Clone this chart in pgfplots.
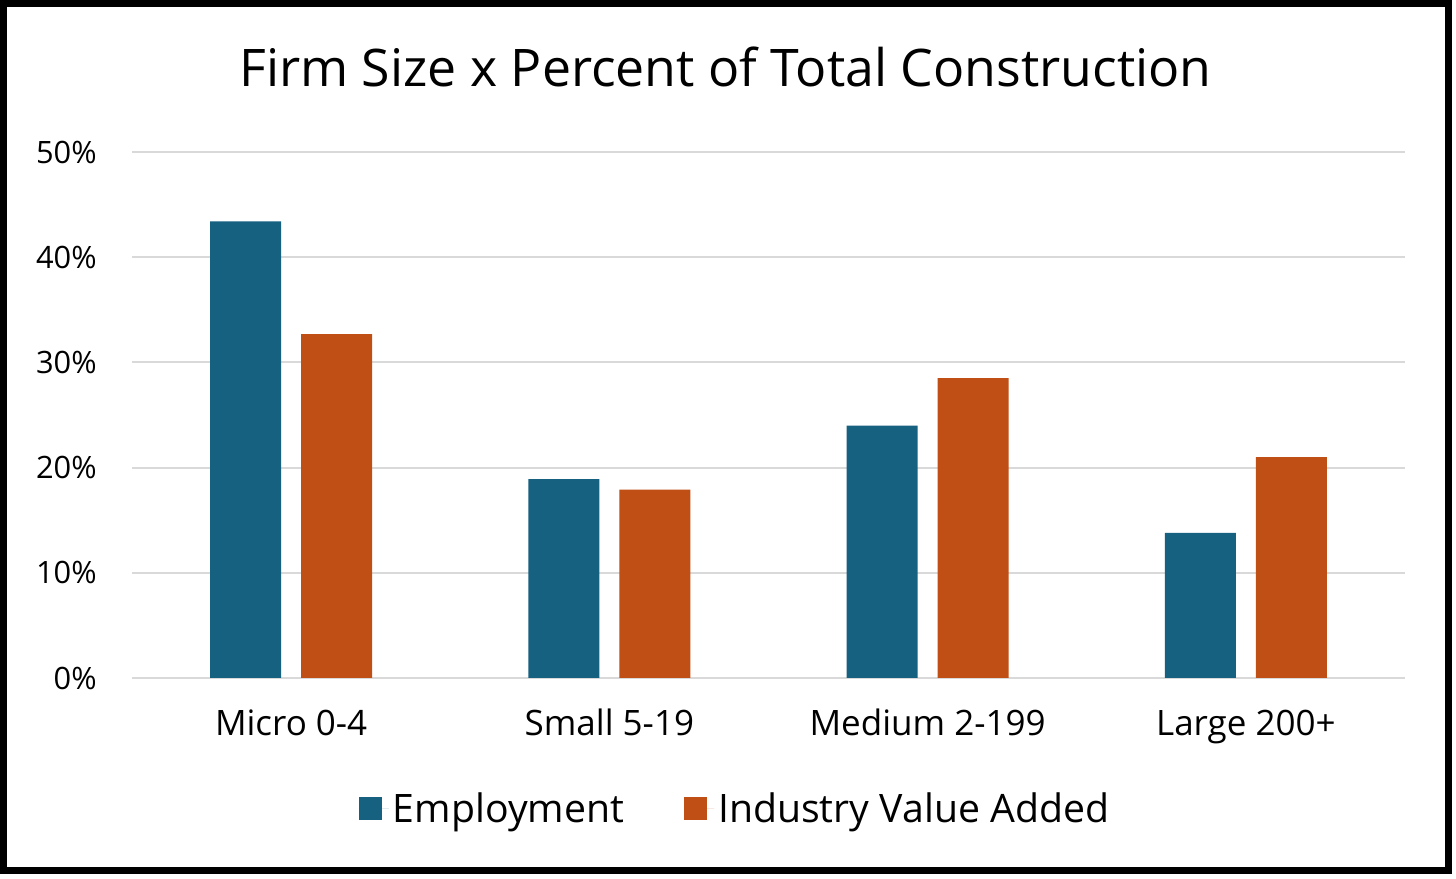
\documentclass[border=0pt]{standalone}
\usepackage{fontspec}
\setmainfont{Open Sans}
\usepackage{pgfplots}
\pgfplotsset{compat=1.18}

\definecolor{empblue}{RGB}{22,96,128}
\definecolor{ivaorange}{RGB}{192,79,21}
\definecolor{gridgray}{RGB}{217,217,217}

\begin{document}
\begin{tikzpicture}
% canvas and frame (1 px = 0.5pt)
\fill[white] (0,0) rectangle (728pt,439pt);
\draw[black, line width=3.5pt] (1.75pt,3.75pt) rectangle (724.25pt,437.25pt);
\node[anchor=base, font=\fontsize{25.9}{30}\selectfont, inner sep=0pt]
  at (362.75pt,395.5pt) {Firm Size x Percent of Total Construction};
\begin{axis}[
    at={(66pt,100pt)}, anchor=south west,
    scale only axis,
    width=636.5pt, height=263pt,
    xmin=-0.5, xmax=3.5,
    ymin=0, ymax=50,
    ybar, bar width=35.5pt,
    axis line style={draw=none},
    major tick length=0pt,
    xtick={0,1,2,3},
    xticklabels={Micro 0-4, Small 5-19, Medium 2-199, Large 200+},
    ytick={0,10,20,30,40,50},
    yticklabels={0\%,10\%,20\%,30\%,40\%,50\%},
    ymajorgrids=true,
    grid style={gridgray, line width=1pt},
    xticklabel style={font=\fontsize{17.5}{21}\selectfont, anchor=base, inner sep=0pt, yshift=-29pt},
    yticklabel style={font=\fontsize{15.4}{18}\selectfont, anchor=base east, inner sep=0pt, xshift=-17.5pt, yshift=-5.5pt},
    legend style={
        at={(axis description cs:0.4745,-0.249)}, anchor=center,
        draw=none, fill=none,
        font=\fontsize{19.6}{23}\selectfont,
        legend columns=2,
        /tikz/every even column/.append style={column sep=28pt},
    },
    legend image code/.code={%
        \fill[#1] (0pt,-5.75pt) rectangle (11.5pt,5.75pt);
        \path (0pt,0pt) -- (15pt,0pt);},
]
\addplot[fill=empblue, draw=none, bar shift=-22.75pt] coordinates {
    (0,43.4) (1,18.9) (2,24.0) (3,13.8)
};
\addplot[fill=ivaorange, draw=none, bar shift=22.75pt] coordinates {
    (0,32.7) (1,17.9) (2,28.5) (3,21.0)
};
\legend{Employment, Industry Value Added}
\end{axis}
\end{tikzpicture}
\end{document}
